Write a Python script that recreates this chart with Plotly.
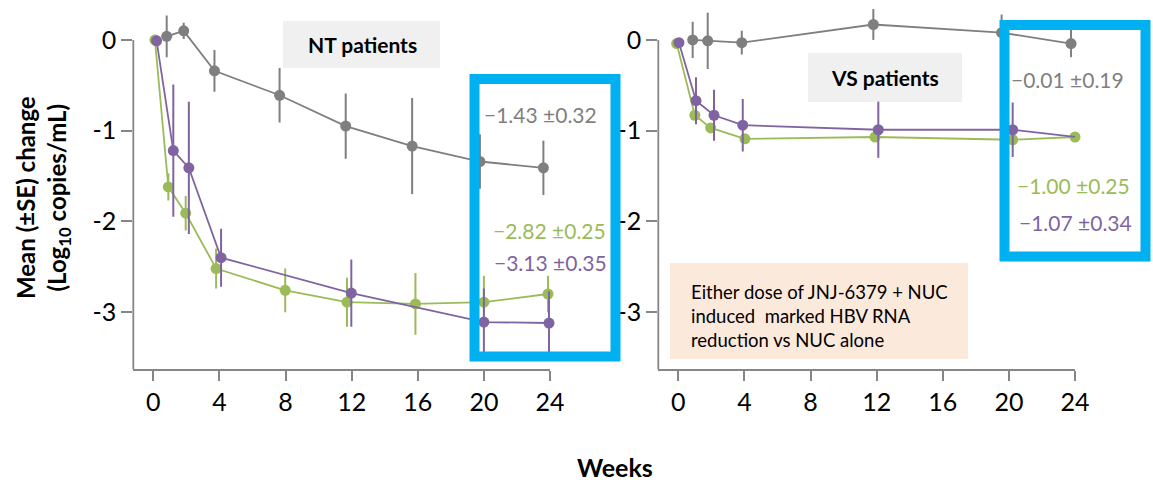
import plotly.graph_objects as go

W, H = 1153, 483
FONT = "Lato"
GRAY = "#7f7f7f"
GREEN = "#9bbb59"
PURPLE = "#8064a2"
AXIS = "#868686"
BLUE = "#00b0f0"

# ---------------- data (weeks, mean change, SE) ----------------
nt_gray_x = [0.81, 1.84, 3.70, 7.64, 11.64, 15.66, 19.76, 23.60]
nt_gray_y = [0.04, 0.10, -0.34, -0.61, -0.95, -1.17, -1.34, -1.41]
nt_gray_e = [0.23, 0.09, 0.23, 0.30, 0.36, 0.53, 0.30, 0.30]

nt_green_x = [0.10, 0.91, 1.96, 3.80, 7.98, 11.72, 15.86, 20.00, 23.88]
nt_green_y = [0.00, -1.62, -1.91, -2.52, -2.76, -2.89, -2.91, -2.89, -2.80]
nt_green_e = [0.00, 0.15, 0.19, 0.22, 0.24, 0.27, 0.34, 0.29, 0.20]

nt_purple_x = [0.20, 1.21, 2.15, 4.10, 11.98, 20.00, 23.94]
nt_purple_y = [-0.01, -1.22, -1.41, -2.40, -2.79, -3.11, -3.12]
nt_purple_e = [0.00, 0.73, 0.73, 0.32, 0.37, 0.37, 0.35]

vs_gray_x = [0.87, 1.78, 3.84, 11.80, 19.56, 23.76]
vs_gray_y = [0.00, -0.01, -0.03, 0.17, 0.08, -0.04]
vs_gray_e = [0.20, 0.31, 0.13, 0.17, 0.20, 0.15]

vs_green_x = [-0.10, 1.00, 1.96, 4.03, 11.90, 20.23, 24.00]
vs_green_y = [-0.04, -0.83, -0.97, -1.09, -1.07, -1.10, -1.07]
vs_green_e = [0, 0, 0, 0, 0, 0, 0]

vs_purple_x = [0.04, 1.07, 2.16, 3.90, 12.10, 20.23, 24.10]
vs_purple_y = [-0.03, -0.67, -0.83, -0.94, -0.99, -0.99, -1.07]
vs_purple_e = [0.00, 0.26, 0.28, 0.29, 0.31, 0.30, 0.32]

x_ticks = [0, 4, 8, 12, 16, 20, 24]
y_ticks = [0, -1, -2, -3]
y_tick_text = ["0", "-1", "-2", "-3"]

nt_labels = ["\u22121.43 \u00b10.32", "\u22122.82 \u00b10.25", "\u22123.13 \u00b10.35"]
vs_labels = ["\u22120.01 \u00b10.19", "\u22121.00 \u00b10.25", "\u22121.07 \u00b10.34"]


def px(x):
    return x / W


def py(y):
    return 1 - y / H


fig = go.Figure()


def add_series(xs, ys, es, color, xa, ya):
    fig.add_trace(go.Scatter(
        x=xs, y=ys, mode="lines+markers", xaxis=xa, yaxis=ya,
        line=dict(color=color, width=1.8),
        marker=dict(color=color, size=11),
        error_y=dict(type="data", array=es, visible=True, color=color,
                     thickness=2, width=0),
        cliponaxis=False, showlegend=False, hoverinfo="skip"))


add_series(nt_gray_x, nt_gray_y, nt_gray_e, GRAY, "x", "y")
add_series(nt_green_x, nt_green_y, nt_green_e, GREEN, "x", "y")
add_series(nt_purple_x, nt_purple_y, nt_purple_e, PURPLE, "x", "y")
add_series(vs_gray_x, vs_gray_y, vs_gray_e, GRAY, "x2", "y2")
add_series(vs_green_x, vs_green_y, vs_green_e, GREEN, "x2", "y2")
add_series(vs_purple_x, vs_purple_y, vs_purple_e, PURPLE, "x2", "y2")

YR = [-3.63, 0.44]
XR = [-1.21, 24.0]
ydom = [py(369.3), 1.0]

xcommon = dict(range=XR, showgrid=False, zeroline=False, showline=True,
               automargin=False,
               linecolor=AXIS, linewidth=1.8, ticks="outside", ticklen=10,
               tickcolor=AXIS, tickwidth=1.8, tickvals=x_ticks,
               tickfont=dict(family=FONT, size=25, color="black"))
ycommon = dict(range=YR, showgrid=False, zeroline=False, showline=False,
               automargin=False,
               ticks="outside", ticklen=11, tickcolor=AXIS, tickwidth=1.8,
               tickvals=y_ticks, ticktext=y_tick_text, domain=ydom,
               tickfont=dict(family=FONT, size=25, color="black"))

fig.update_layout(
    template="none",
    width=W, height=H, autosize=False, margin=dict(l=0, r=0, t=0, b=0, pad=0),
    plot_bgcolor="white", paper_bgcolor="white",
    xaxis=dict(domain=[px(133.3), px(550)], anchor="y", **xcommon),
    yaxis=dict(anchor="x", **ycommon),
    xaxis2=dict(domain=[px(658.3), px(1075)], anchor="y2", **xcommon),
    yaxis2=dict(anchor="x2", **ycommon),
)

shapes = []
# y axis lines (only from 0 down)
for xr, yr in (("x domain", "y"), ("x2 domain", "y2")):
    shapes.append(dict(type="line", xref=xr, yref=yr, x0=0, x1=0,
                       y0=0, y1=YR[0], line=dict(color=AXIS, width=1.8)))
# panel label boxes
shapes.append(dict(type="rect", xref="paper", yref="paper", layer="below",
                   x0=px(283), x1=px(440), y0=py(68), y1=py(21),
                   fillcolor="#f0f0f0", line=dict(width=0)))
shapes.append(dict(type="rect", xref="paper", yref="paper", layer="below",
                   x0=px(808), x1=px(962), y0=py(102), y1=py(53),
                   fillcolor="#f0f0f0", line=dict(width=0)))
# peach note box
shapes.append(dict(type="rect", xref="paper", yref="paper", layer="below",
                   x0=px(670), x1=px(968), y0=py(359), y1=py(263),
                   fillcolor="#fbe9dc", line=dict(width=0)))
# blue highlight boxes
shapes.append(dict(type="rect", xref="paper", yref="paper",
                   x0=px(474.5), x1=px(615.5), y0=py(356.5), y1=py(79),
                   line=dict(color=BLUE, width=10)))
shapes.append(dict(type="rect", xref="paper", yref="paper",
                   x0=px(1004.5), x1=px(1145.5), y0=py(256.5), y1=py(25),
                   line=dict(color=BLUE, width=10)))
fig.update_layout(shapes=shapes)

ann = []


def text(x, y, s, size, color="black", bold=False, xanchor="center", **kw):
    if bold:
        s = "<b>" + s + "</b>"
    ann.append(dict(x=px(x), y=py(y), xref="paper", yref="paper", text=s,
                    showarrow=False, xanchor=xanchor, yanchor="middle",
                    font=dict(family=FONT, size=size, color=color), **kw))


text(362, 45, "NT patients", 21, bold=True)
text(885, 77, "VS patients", 21, bold=True)
text(540, 114, nt_labels[0], 21, GRAY)
text(549, 230, nt_labels[1], 21, GREEN)
text(550, 262, nt_labels[2], 21, PURPLE)
text(1067, 80, vs_labels[0], 21, GRAY)
text(1073, 185, vs_labels[1], 21, GREEN)
text(1075, 222, vs_labels[2], 21, PURPLE)
text(689, 316, "Either dose of JNJ-6379 + NUC<br>induced  marked HBV RNA<br>reduction vs NUC alone",
     18.5, xanchor="left", align="left")
text(615, 467, "Weeks", 25, bold=True)
text(43, 198, "Mean (\u00b1SE) change<br>(Log<sub>10</sub> copies/mL)", 24,
     bold=True, textangle=-90)
fig.update_layout(annotations=ann)

fig.write_html("out.html")
